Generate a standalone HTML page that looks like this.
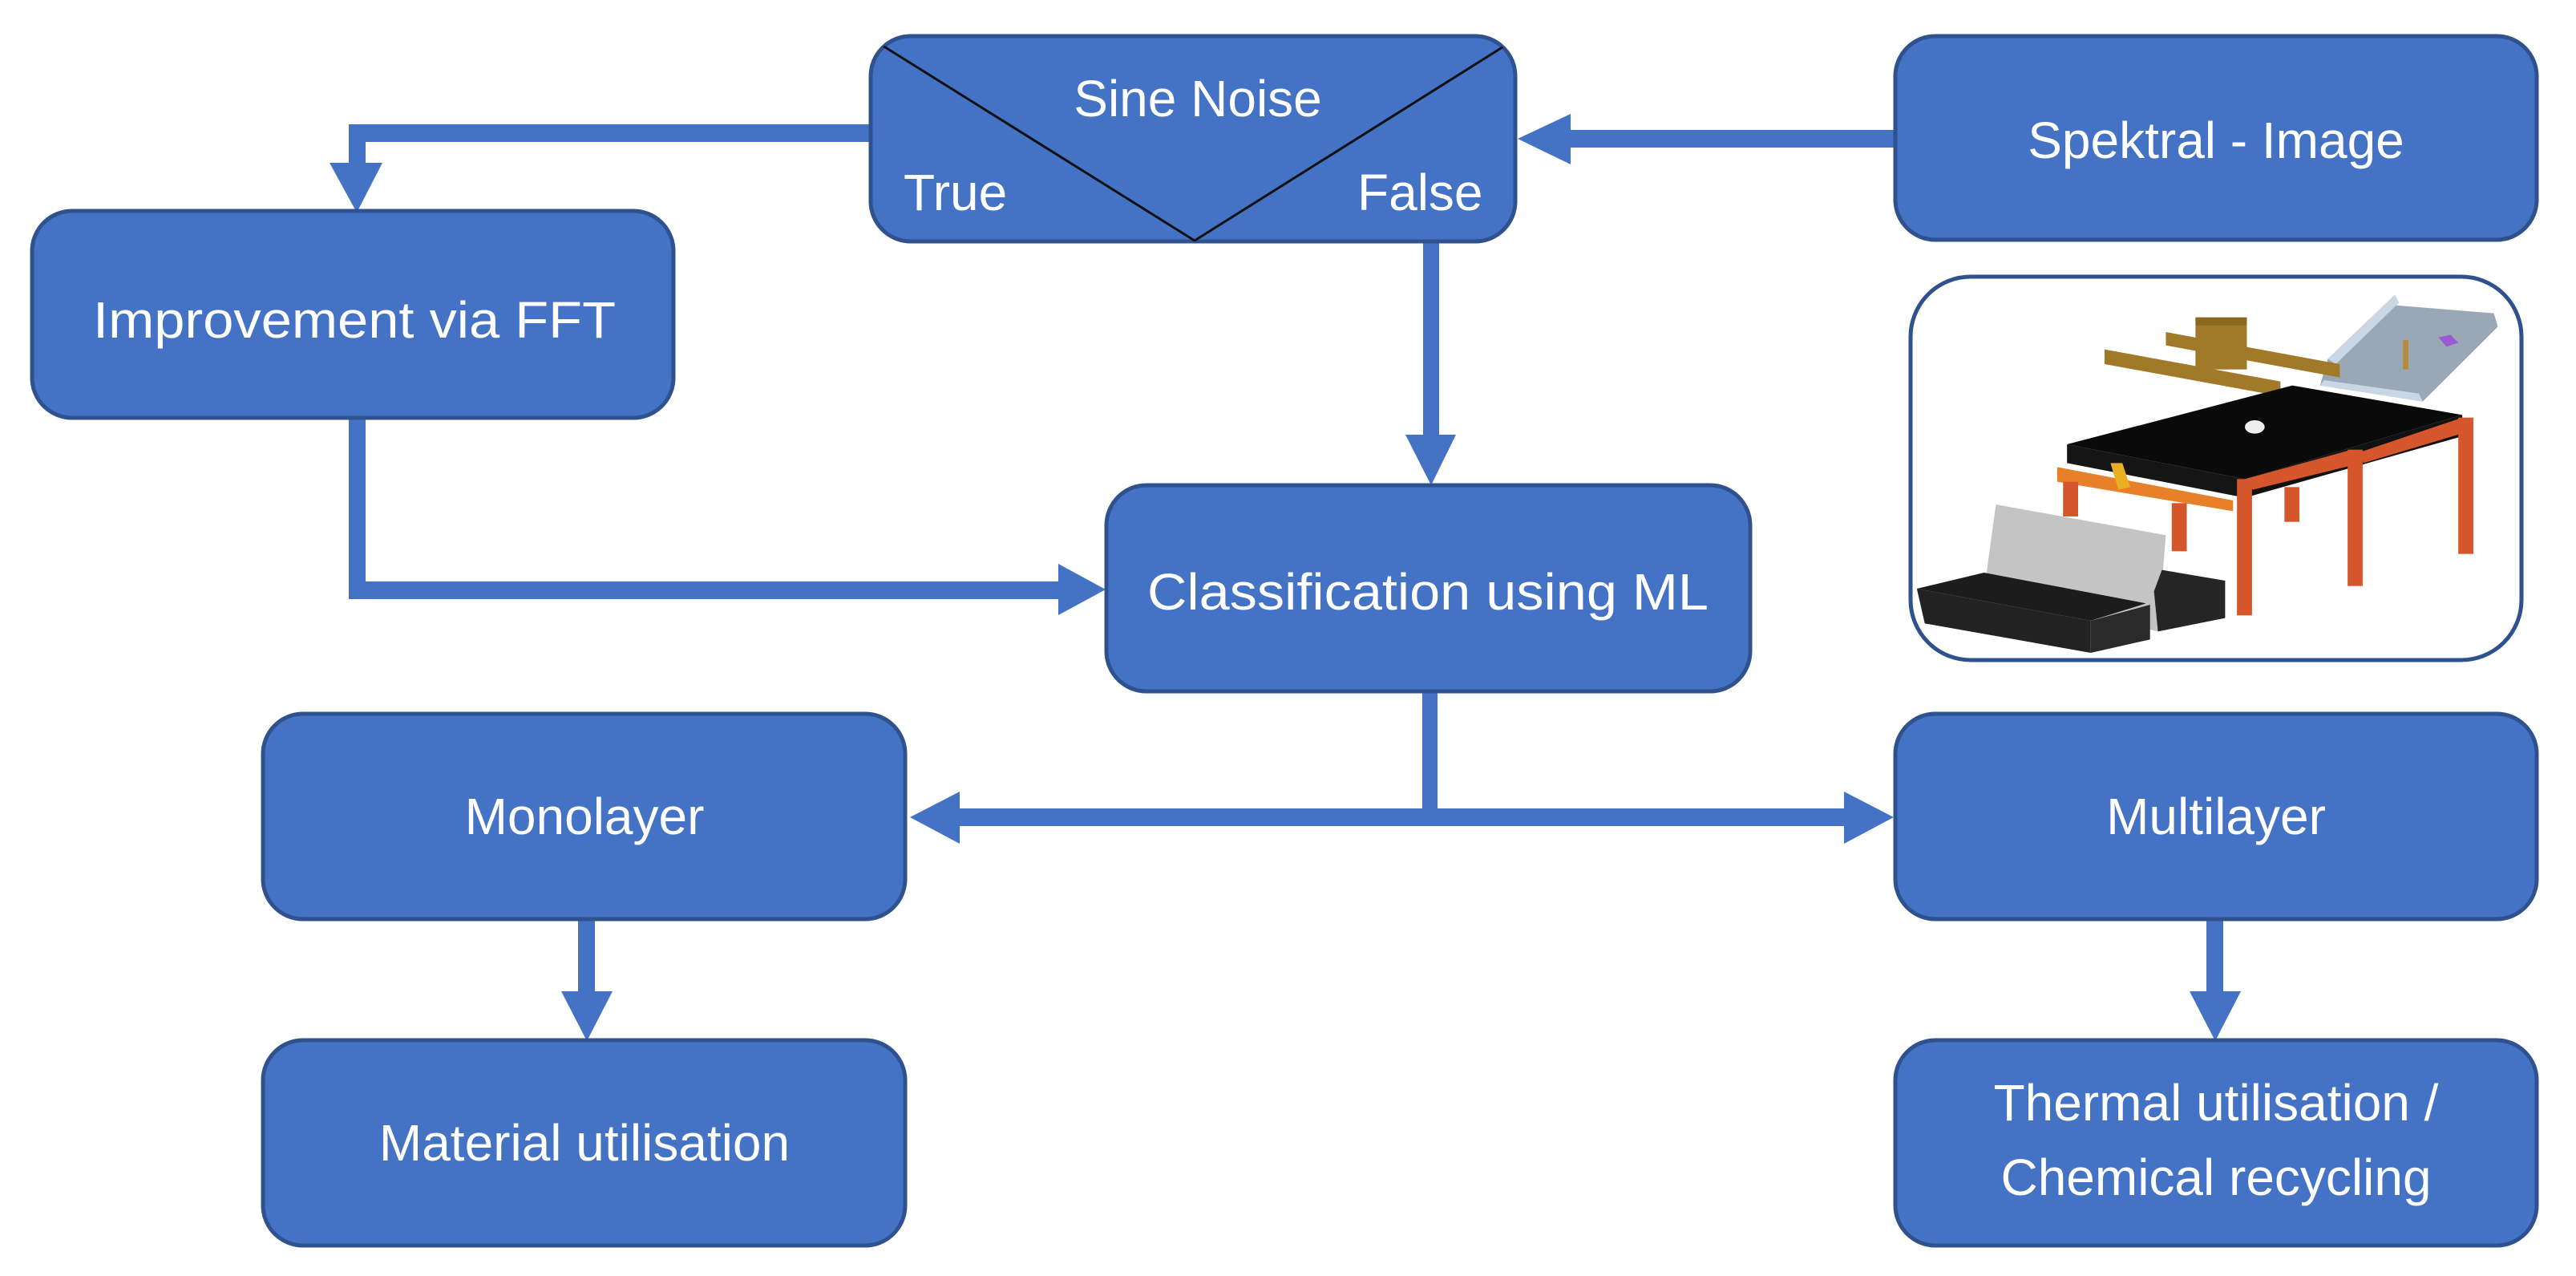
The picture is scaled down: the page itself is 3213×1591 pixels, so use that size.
<!DOCTYPE html>
<html><head><meta charset="utf-8"><style>
html,body{margin:0;padding:0;background:#fff;}
svg{display:block;}
text{font-family:"Liberation Sans",sans-serif;fill:#fff;}
</style></head><body>
<svg width="3213" height="1591" viewBox="0 0 3213 1591" xmlns="http://www.w3.org/2000/svg">
<defs>
<style>.b{fill:#4472c4;stroke:#2f528f;stroke-width:5;}</style>
<clipPath id="sc"><rect x="1086" y="45" width="804" height="256" rx="50"/></clipPath>
</defs>
<g fill="#4472c4">
<rect x="435" y="155" width="655" height="22"/>
<rect x="435" y="155" width="21" height="60"/>
<polygon points="411,203 477,203 445,265"/>
<rect x="1950" y="162" width="415" height="22"/>
<polygon points="1893,173 1959,142 1959,205"/>
<rect x="1775" y="300" width="20" height="250"/>
<polygon points="1753,542 1816,542 1785,605"/>
<rect x="435" y="518" width="21" height="229"/>
<rect x="435" y="725" width="895" height="22"/>
<polygon points="1379,735 1320,703 1320,767"/>
<rect x="1774" y="860" width="19" height="160"/>
<rect x="1190" y="1008" width="1140" height="22"/>
<polygon points="1135,1019 1197,987 1197,1052"/>
<polygon points="2362,1019 2300,987 2300,1052"/>
<rect x="721" y="1145" width="21" height="100"/>
<polygon points="700,1236 764,1236 732,1298"/>
<rect x="2752" y="1145" width="21" height="100"/>
<polygon points="2731,1236 2795,1236 2763,1298"/>
</g>

<rect class="b" x="1086" y="45" width="804" height="256" rx="50"/>
<polyline clip-path="url(#sc)" points="1093,52 1490,300 1885,52" fill="none" stroke="#111" stroke-width="3"/>
<text x="1494" y="145" font-size="64" text-anchor="middle">Sine Noise</text>
<text x="1127" y="262" font-size="64">True</text>
<text x="1693" y="262" font-size="64">False</text>

<rect class="b" x="2364" y="45" width="800" height="254" rx="50"/>
<text x="2764" y="197" font-size="64" text-anchor="middle">Spektral - Image</text>

<rect class="b" x="40" y="263" width="800" height="258" rx="50"/>
<text x="442" y="421" font-size="64" text-anchor="middle" textLength="652" lengthAdjust="spacingAndGlyphs">Improvement via FFT</text>

<rect class="b" x="1380" y="605" width="803" height="257" rx="50"/>
<text x="1781" y="760" font-size="64" text-anchor="middle" textLength="700" lengthAdjust="spacingAndGlyphs">Classification using ML</text>

<rect class="b" x="328" y="890" width="801" height="256" rx="50"/>
<text x="729" y="1040" font-size="64" text-anchor="middle">Monolayer</text>

<rect class="b" x="2364" y="890" width="800" height="256" rx="50"/>
<text x="2764" y="1040" font-size="64" text-anchor="middle">Multilayer</text>

<rect class="b" x="328" y="1297" width="801" height="256" rx="50"/>
<text x="729" y="1447" font-size="64" text-anchor="middle">Material utilisation</text>

<rect class="b" x="2364" y="1297" width="800" height="256" rx="50"/>
<text x="2764" y="1397" font-size="64" text-anchor="middle">Thermal utilisation /</text>
<text x="2764" y="1490" font-size="64" text-anchor="middle">Chemical recycling</text>

<rect x="2383" y="345" width="762" height="478" rx="75" fill="#fff" stroke="#2f528f" stroke-width="5"/>
<svg x="2381" y="344" width="770" height="480" viewBox="0 0 1562 1440" preserveAspectRatio="none">
 <polygon points="1060,310 1230,70 1230,110 1480,140 1490,190 1300,470 1040,410" fill="#9aa8b6"/>
 <polygon points="1060,310 1230,70 1240,100 1080,330" fill="#c9d6e3"/>
 <polygon points="1040,410 1300,470 1290,440 1050,390" fill="#c9d6e3"/>
 <rect x="1250" y="240" width="14" height="110" fill="#b48a3c"/>
 <polygon points="1340,230 1370,220 1390,250 1360,265" fill="#9b59d6"/>
 <polygon points="650,210 1090,330 1090,380 650,260" fill="#a07a28"/>
 <polygon points="495,275 940,395 940,450 495,330" fill="#a07a28"/>
 <rect x="725" y="160" width="130" height="190" fill="#a07a28"/>
 <rect x="725" y="155" width="130" height="30" fill="#8a6820"/>
 <polygon points="400,630 970,410 1400,520 850,760" fill="#0a0a0a"/>
 <polygon points="400,630 850,760 850,830 400,700" fill="#151515"/>
 <polygon points="850,760 1400,520 1400,600 850,830" fill="#111"/>
 <ellipse cx="875" cy="565" rx="25" ry="25" fill="#eee"/>
 <polygon points="375,715 820,840 820,880 375,770" fill="#e8802a"/>
 <polygon points="510,700 540,700 560,790 530,800" fill="#e8b020"/>
 <g fill="#d4562a">
 <rect x="390" y="770" width="38" height="130"/>
 <rect x="665" y="850" width="38" height="180"/>
 <rect x="830" y="760" width="38" height="510"/>
 <rect x="950" y="790" width="38" height="130"/>
 <rect x="1110" y="650" width="38" height="510"/>
 <rect x="1390" y="530" width="38" height="510"/>
 <polygon points="850,760 1120,650 1145,700 870,800"/>
 <polygon points="1140,660 1400,530 1420,580 1150,700"/>
 </g>
 <polygon points="220,855 650,970 630,1330 190,1180" fill="#c4c4c4"/>
 <polygon points="20,1170 190,1110 600,1225 460,1290" fill="#1c1c1c"/>
 <polygon points="20,1170 460,1290 460,1410 40,1300" fill="#222"/>
 <polygon points="460,1290 610,1230 610,1360 460,1410" fill="#2a2a2a"/>
 <polygon points="620,1180 640,1100 800,1140 800,1280 630,1330" fill="#252525"/>
</svg>
</svg>
</body></html>
